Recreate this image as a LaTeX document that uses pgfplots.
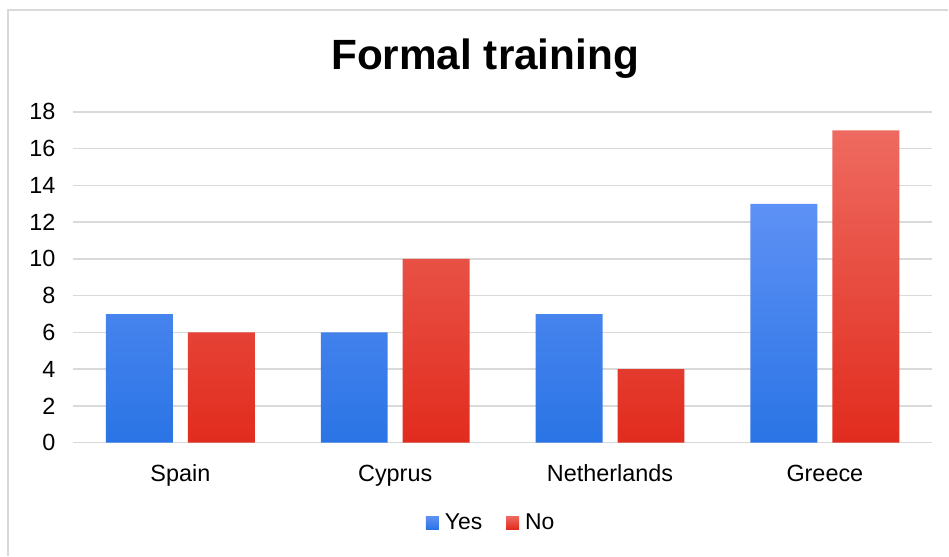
\documentclass[border=0pt]{standalone}
\usepackage{pgfplots}
\pgfplotsset{compat=1.18}
\usepackage{fontspec}
\setmainfont{Liberation Sans}

\definecolor{gridgray}{HTML}{D9D9D9}
\definecolor{frame}{HTML}{D9D9D9}
\definecolor{blueTop}{HTML}{5E91F5}
\definecolor{blueMid}{HTML}{3D88FE}
\definecolor{blueBot}{HTML}{2A74E5}
\definecolor{redTop}{HTML}{EE6A60}
\definecolor{redMid}{HTML}{F23D2E}
\definecolor{redBot}{HTML}{E12C1E}

\begin{document}
\begin{tikzpicture}[x=1bp,y=1bp]
  % canvas and chart-area frame (left and top edges)
  \path (0,0) rectangle (949,-556);
  \draw[frame, line width=1.5bp] (8,-556) -- (8,-10) -- (949,-10);
  % title
  \node[font=\fontsize{42.5}{50}\selectfont\bfseries, anchor=base] at (485.5,-70) {Formal training};
  \begin{axis}[
    at={(73bp,-443bp)}, anchor=south west,
    scale only axis, width=860bp, height=331bp,
    xmin=-0.5, xmax=3.5, ymin=0, ymax=18,
    ytick={0,2,...,18},
    xtick=data,
    xticklabels={Spain,Cyprus,Netherlands,Greece},
    ybar=15bp, bar width=67bp,
    axis line style={draw=none},
    axis x line*=bottom,
    x axis line style={draw=gridgray, line width=1.5bp},
    ymajorgrids, grid style={gridgray, line width=1.5bp},
    major tick length=0pt,
    tick label style={font=\fontsize{23.5}{28}\selectfont},
    /pgf/number format/assume math mode=true,
    yticklabel style={anchor=east, xshift=-14bp},
    xticklabel style={anchor=base, yshift=-39bp},
    legend style={at={(0.4855,-0.242)}, anchor=center, draw=none,
      legend columns=2, font=\fontsize{23}{27}\selectfont,
      nodes={inner sep=0pt},
      /tikz/every odd column/.append style={column sep=6bp},
      /tikz/every even column/.append style={column sep=24bp}},
    legend image code/.code={\path[#1] (0bp,-6.5bp) rectangle (13bp,6.5bp);},
  ]
    \addplot[draw=none, top color=blueTop, middle color=blueMid, bottom color=blueBot]
      coordinates {(0,7) (1,6) (2,7) (3,13)};
    \addplot[draw=none, top color=redTop, middle color=redMid, bottom color=redBot]
      coordinates {(0,6) (1,10) (2,4) (3,17)};
    \legend{Yes,No}
  \end{axis}
\end{tikzpicture}
\end{document}
